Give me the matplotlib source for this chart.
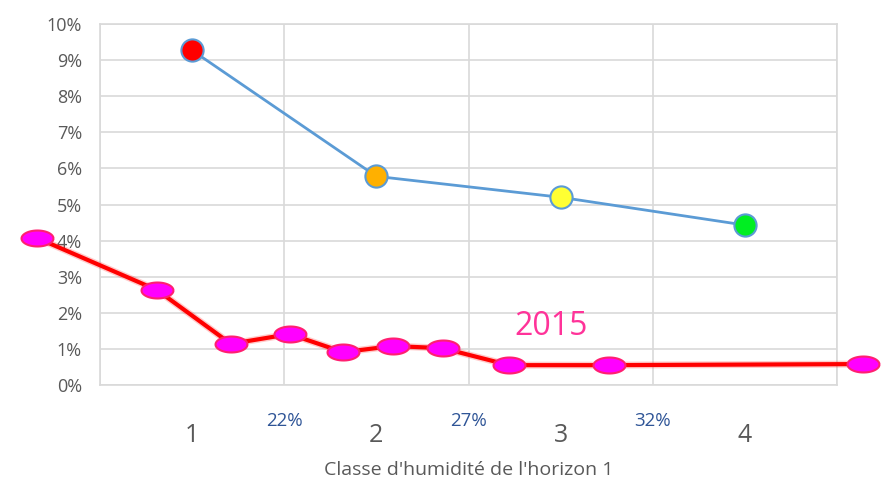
import matplotlib.pyplot as plt
import numpy as np
from matplotlib.path import Path
import matplotlib.transforms as mtransforms

plt.rcParams['font.family'] = ['Open Sans', 'DejaVu Sans']

# humidity classes and the 2015 curve
classes = [1, 2, 3, 4]
class_vals = [9.27, 5.78, 5.20, 4.43]
class_colors = ['#FF0000', '#FFB000', '#FFFF33', '#00EE22']

bound_pos = [1.5, 2.5, 3.5]
bound_labels = ['22%', '27%', '32%']

red_x = [0.16, 0.81, 1.21, 1.53, 1.82, 2.09, 2.36, 2.72, 3.26, 4.64]
red_y = [4.07, 2.63, 1.14, 1.41, 0.91, 1.08, 1.02, 0.55, 0.55, 0.58]

# ellipse marker
t = np.linspace(0, 2*np.pi, 60)
ell = Path(np.column_stack([2*np.cos(t), np.sin(t)]))

fig = plt.figure(figsize=(8.87, 4.86), dpi=100)
ax = fig.add_axes([0.1127, 0.2078, 0.831, 0.7428])

ax.set_xlim(0.5, 4.5)
ax.set_ylim(0, 10)
ax.set_yticks(range(0, 11))
ax.set_yticklabels([str(i) + '%' for i in range(0, 11)], fontsize=13, color='#595959')
ax.set_xticks(classes)
ax.set_xticklabels([str(c) for c in classes], fontsize=18, color='#595959')
ax.set_xticks([0.5, 1.5, 2.5, 3.5, 4.5], minor=True)
ax.tick_params(length=0, which='both')
ax.tick_params(axis='x', pad=27)
ax.tick_params(axis='y', pad=13)
ax.grid(True, axis='y', color='#D9D9D9', lw=1.2)
ax.grid(True, axis='x', which='minor', color='#D9D9D9', lw=1.2)
for s in ax.spines.values():
    s.set_color('#D9D9D9')
    s.set_linewidth(1.2)
ax.set_axisbelow(True)

# blue series
ax.plot(classes, class_vals, color='#5B9BD5', lw=2, zorder=3)
for x, y, c in zip(classes, class_vals, class_colors):
    ax.plot(x, y, 'o', ms=16, mfc=c, mec='#5B9BD5', mew=1.5, zorder=4)

# red series (extends past the plot area)
ax.plot(red_x, red_y, color='#FF3030', lw=5, alpha=0.25, clip_on=False, zorder=5)
ax.plot(red_x, red_y, color='#FF0000', lw=3, clip_on=False, zorder=5,
        marker=ell, ms=23, mfc='#FF00FF', mec='#FF2070', mew=1.5)

ax.text(2.95, 1.38, '2015', color='#FF3399', fontsize=23, ha='center', va='baseline')

trans = mtransforms.blended_transform_factory(ax.transData, ax.transAxes)
for p, lab in zip(bound_pos, bound_labels):
    ax.text(p, -0.075, lab, transform=trans, ha='center', va='top',
            fontsize=13.5, color='#2F5597')

ax.set_xlabel("Classe d'humidité de l'horizon 1", fontsize=14, color='#595959', labelpad=10)

fig.savefig('out.png', dpi=100)
